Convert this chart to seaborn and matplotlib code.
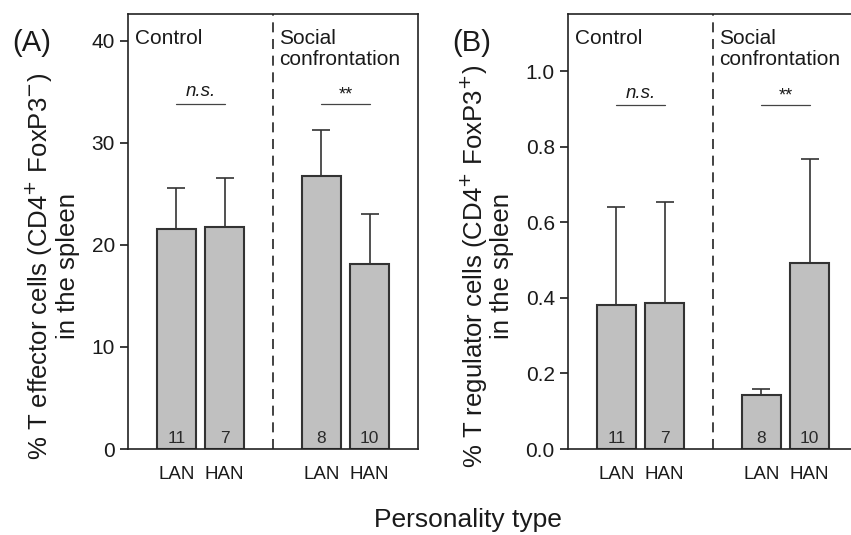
import matplotlib
matplotlib.use("Agg")
import matplotlib.pyplot as plt
import numpy as np
import pandas as pd
import seaborn as sns

# Data
groups = ["C_LAN", "C_HAN", "gap", "S_LAN", "S_HAN"]
bar_groups = ["C_LAN", "C_HAN", "S_LAN", "S_HAN"]
tick_labels = ["LAN", "HAN", "LAN", "HAN"]
sample_sizes = ["11", "7", "8", "10"]

effector_mean = [21.5, 21.7, 26.7, 18.1]
effector_upper = [25.6, 26.5, 31.2, 23.0]
regulator_mean = [0.380, 0.386, 0.143, 0.492]
regulator_upper = [0.641, 0.653, 0.160, 0.767]

sns.set_theme(style="ticks")
plt.rcParams['font.family'] = ['Liberation Sans', 'DejaVu Sans']
plt.rcParams['text.color'] = '#1a1a1a'
plt.rcParams['axes.labelcolor'] = '#1a1a1a'
plt.rcParams['xtick.color'] = '#1a1a1a'
plt.rcParams['ytick.color'] = '#1a1a1a'

fig = plt.figure(figsize=(8.51, 5.35), dpi=100)
ax_a = fig.add_axes([0.1504, 0.1607, 0.3408, 0.8131])
ax_b = fig.add_axes([0.6675, 0.1607, 0.3408, 0.8131])


def draw_panel(ax, means, uppers, ylim, yticks, fmt, ylabel, sig_y, panel, panel_x):
    df = pd.DataFrame({"group": bar_groups, "value": means})
    sns.barplot(data=df, x="group", y="value", order=groups, ax=ax,
                color="#c0c0c0", saturation=1, width=0.8,
                edgecolor="#333333", linewidth=1.5)
    pos = [0, 1, 3, 4]
    err = np.array(uppers) - np.array(means)
    ax.errorbar(pos, means, yerr=[np.zeros(len(err)), err], fmt="none",
                ecolor="#333333", elinewidth=1.2, capsize=6.5, capthick=1.2)
    ax.set_xlim(-1, 5)
    ax.set_ylim(0, ylim)
    ax.set_yticks(yticks)
    ax.set_yticklabels([fmt.format(t) for t in yticks], fontsize=15)
    ax.set_xticks(pos)
    ax.set_xticklabels(tick_labels, fontsize=13.5)
    ax.tick_params(axis="x", length=0, pad=12)
    ax.tick_params(axis="y", length=6, width=1.2, direction="out")
    ax.set_xlabel("")
    ax.set_ylabel(ylabel, fontsize=18.5, linespacing=1.05, labelpad=8, y=0.42)
    for s in ax.spines.values():
        s.set_color("#222222")
        s.set_linewidth(1.2)
    ax.axvline(2, color="#222222", linestyle=(0, (6, 4)), linewidth=1.2)

    ax.text(0.025, 0.965, "Control", transform=ax.transAxes, ha="left",
            va="top", fontsize=15)
    ax.text(0.522, 0.965, "Social\nconfrontation", transform=ax.transAxes,
            ha="left", va="top", fontsize=15, linespacing=1.15)

    # significance lines
    ax.plot([0.0, 1.0], [sig_y, sig_y], color="#444444", linewidth=0.9)
    ax.plot([3.0, 4.0], [sig_y, sig_y], color="#444444", linewidth=0.9)
    ax.text(0.5, sig_y + ylim * 0.008, "n.s.", ha="center", va="bottom",
            fontsize=13.5, style="italic")
    ax.text(3.5, sig_y + ylim * 0.002, "**", ha="center", va="bottom",
            fontsize=13)

    for p, n in zip(pos, sample_sizes):
        ax.text(p, ylim * 0.006, n, ha="center", va="bottom", fontsize=12.5,
                color="#2a2a2a")

    fig.text(panel_x, 0.905, panel, fontsize=21)


draw_panel(ax_a, effector_mean, effector_upper, 42.6, [0, 10, 20, 30, 40],
           "{:.0f}",
           "% T effector cells (CD4$^{+}$ FoxP3$^{-}$)\nin the spleen",
           33.8, "(A)", 12 / 851)
draw_panel(ax_b, regulator_mean, regulator_upper, 1.151,
           [0.0, 0.2, 0.4, 0.6, 0.8, 1.0], "{:.1f}",
           "% T regulator cells (CD4$^{+}$ FoxP3$^{+}$)\nin the spleen",
           0.91, "(B)", 452 / 851)

fig.text(468 / 851, 0.005, "Personality type", ha="center", va="bottom",
         fontsize=19)

fig.savefig("out.png", dpi=100)
